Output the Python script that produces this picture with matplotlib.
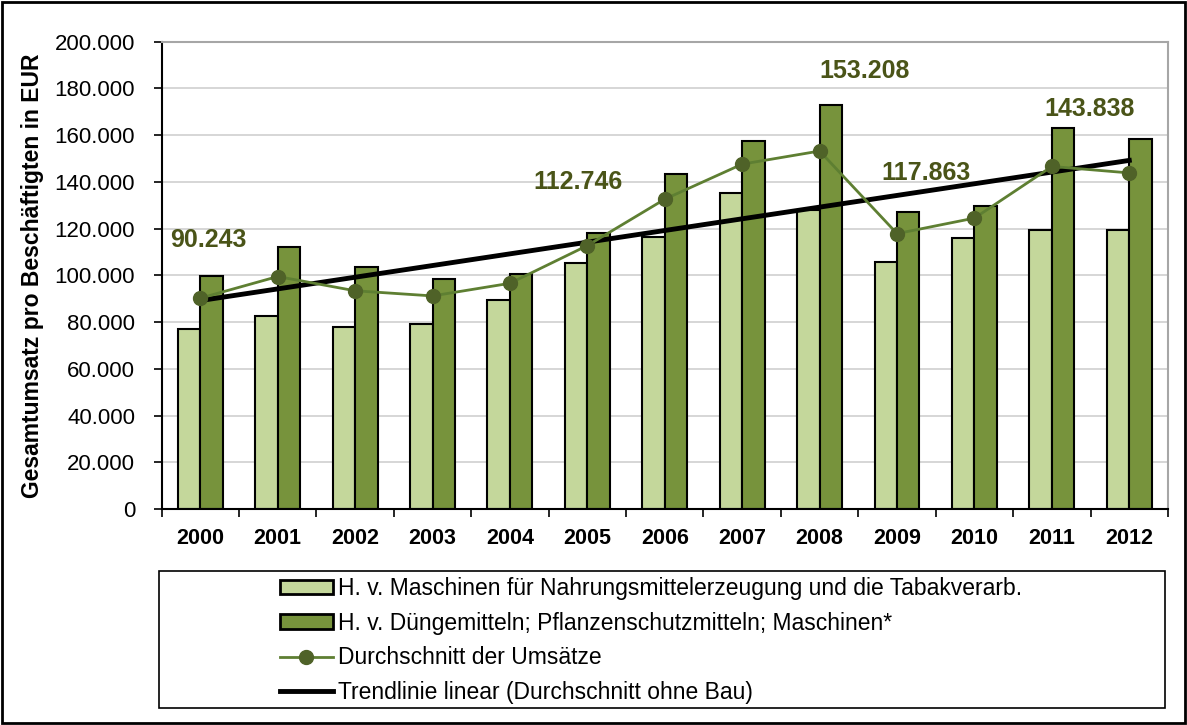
import matplotlib
matplotlib.use("Agg")
import matplotlib.pyplot as plt
import numpy as np
from matplotlib.patches import Rectangle
from matplotlib.lines import Line2D

plt.rcParams['font.family'] = ['Liberation Sans', 'DejaVu Sans']

years = ['2000', '2001', '2002', '2003', '2004', '2005', '2006',
         '2007', '2008', '2009', '2010', '2011', '2012']
nahrung = [77000, 82600, 78000, 79200, 89500, 105500, 116400,
           135200, 128000, 105600, 115900, 119300, 119300]
duenger = [99900, 112000, 103400, 98400, 100500, 118300, 143500,
           157700, 173000, 127300, 129800, 163200, 158300]
durchschnitt = [90243, 99500, 93400, 91200, 96600, 112746, 132600,
                147600, 153208, 117863, 124500, 146600, 143838]
trend_ends = [89200, 149200]  # trend line value at 2000 and 2012
labelled = [0, 5, 8, 9, 12]

labels = ['H. v. Maschinen für Nahrungsmittelerzeugung und die Tabakverarb.',
          'H. v. Düngemitteln; Pflanzenschutzmitteln; Maschinen*',
          'Durchschnitt der Umsätze',
          'Trendlinie linear (Durchschnitt ohne Bau)']

light = '#C4D79B'
dark = '#77933C'
line_col = '#5E7F32'
marker_col = '#4F6228'
label_col = '#4A5418'

fig = plt.figure(figsize=(11.87, 7.25), dpi=100)
ax = fig.add_axes([0.1361, 0.2979, 0.8479, 0.6446])

x = np.arange(len(years))
w = 0.29
ax.bar(x - w / 2, nahrung, w, color=light, edgecolor='black', linewidth=1.5, zorder=2)
ax.bar(x + w / 2, duenger, w, color=dark, edgecolor='black', linewidth=1.5, zorder=2)
ax.plot(x, durchschnitt, color=line_col, linewidth=2, marker='o', markersize=10,
        markerfacecolor=marker_col, markeredgecolor=marker_col, zorder=4)
ax.plot([x[0], x[-1]], trend_ends, color='black', linewidth=3.5, zorder=3)

# label offsets in pixels from the data point
offsets = {0: (8, 58), 5: (-9, 64), 8: (45, 80), 9: (29, 61), 12: (-40, 64)}
for i in labelled:
    txt = '{:,}'.format(durchschnitt[i]).replace(',', '.')
    ax.annotate(txt, (x[i], durchschnitt[i]), xytext=offsets[i],
                textcoords='offset pixels', ha='center', va='center',
                fontsize=18, fontweight='bold', color=label_col)

ax.set_xlim(-0.5, len(years) - 0.5)
ax.set_ylim(0, 200000)
ax.set_yticks(np.arange(0, 200001, 20000))
ax.set_yticklabels(['{:,}'.format(v).replace(',', '.') for v in range(0, 200001, 20000)],
                   fontsize=16)
ax.set_xticks(x)
ax.set_xticklabels(years, fontsize=15.5, fontweight='bold')
ax.set_xticks(np.arange(-0.5, len(years)), minor=True)
ax.tick_params(axis='x', which='major', length=0, pad=14)
ax.tick_params(axis='x', which='minor', length=6, width=1.2, direction='out')
ax.tick_params(axis='y', length=6, width=1.2, direction='out', pad=13)
ax.grid(axis='y', color='#D0D0D0', linewidth=1.2, zorder=0)
ax.set_axisbelow(True)

ax.spines['left'].set_color('black')
ax.spines['left'].set_linewidth(1.5)
ax.spines['bottom'].set_color('black')
ax.spines['bottom'].set_linewidth(1.5)
ax.spines['top'].set_color('#A6A6A6')
ax.spines['right'].set_color('#A6A6A6')
ax.spines['top'].set_linewidth(1.5)
ax.spines['right'].set_linewidth(1.5)

ax.set_ylabel('Gesamtumsatz pro Beschäftigten in EUR', fontsize=16.5,
              fontweight='bold')
ax.yaxis.set_label_coords(-0.117, 0.5)

handles = [Rectangle((0, 0), 1, 1, facecolor=light, edgecolor='black', linewidth=2),
           Rectangle((0, 0), 1, 1, facecolor=dark, edgecolor='black', linewidth=2),
           Line2D([], [], color=line_col, linewidth=2, marker='o', markersize=10,
                  markerfacecolor=marker_col, markeredgecolor=marker_col),
           Line2D([], [], color='black', linewidth=3.5)]
fig.legend(handles, labels, loc='upper left', bbox_to_anchor=(280 / 1187, 1 - 577 / 725),
           frameon=False, fontsize=16.5, handlelength=2.3, handleheight=0.6,
           handletextpad=0.25, labelspacing=0.51, borderpad=0, borderaxespad=0)

fig.add_artist(Rectangle((159 / 1187, 1 - 708 / 725), (1165 - 159) / 1187, (708 - 571) / 725,
                         transform=fig.transFigure, fill=False, edgecolor='black', linewidth=1.2))
fig.add_artist(Rectangle((2 / 1187, 2 / 725), 1183 / 1187, 721 / 725,
                         transform=fig.transFigure, fill=False, edgecolor='black', linewidth=2))

fig.savefig('out.png', dpi=100)
